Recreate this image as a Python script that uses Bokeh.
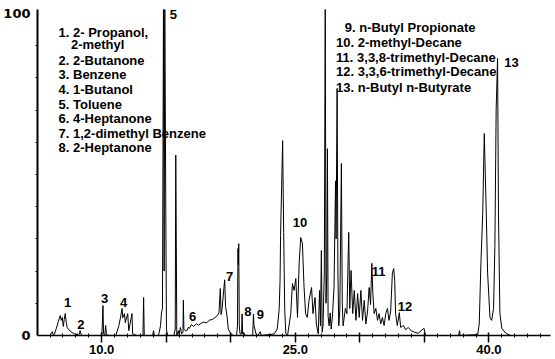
from bokeh.plotting import figure
from bokeh.models import FixedTicker, Range1d, ColumnDataSource, PrintfTickFormatter
from bokeh.core.properties import value
from bokeh.embed import file_html
from bokeh.resources import INLINE

# ---------------- data: retention time (min) / relative abundance (%) -------------
t_early = [5.03, 5.95, 6.10, 6.18, 6.26, 6.33, 6.49, 6.64, 6.72, 6.79, 6.87, 6.95, 7.03, 7.10,
           7.18, 7.26, 7.33, 7.49, 7.72, 7.87, 8.03, 8.10, 8.18, 8.26, 8.33, 8.41, 8.49]
y_early = [0, 0, 0.6, 1.2, 0, 0.3, 2.2, 4.3, 5.3, 6.2, 4.7, 5.6, 2.8, 5.0,
           6.8, 4.0, 2.5, 1.6, 0.9, 0.6, 0, 0.6, 0, 0.3, 1.5, 0.3, 0]

t_b = [10.02, 10.10, 10.15, 10.25, 10.31, 10.37, 10.60,
       11.10, 11.33, 11.48, 11.58, 11.64, 11.77, 11.83, 12.02, 12.10, 12.35, 12.40, 12.56, 12.71,
       13.20, 13.25, 13.30, 13.95, 14.02, 14.08]
y_b = [0, 9.3, 0.5, 0.3, 3.1, 0.2, 0,
       0, 3, 6, 8.4, 5.5, 6.8, 4, 6.8, 1.5, 6.8, 0.5, 0.3, 0,
       0, 11.8, 0, 0, 1.5, 0]

t_tol = [14.40, 14.56, 14.63, 14.71, 14.79, 14.84, 14.89, 14.98, 15.02, 15.10,
         15.60, 15.70, 15.74, 15.78, 15.82,
         15.94, 16.00, 16.10, 16.20, 16.30, 16.33, 16.37, 16.48]
y_tol = [0, 3, 7, 8.5, 103, 20, 103, 30, 2, 0,
         0, 2, 56, 30, 0,
         1.5, 0.3, 2.5, 0.5, 1, 11, 2, 1.5]

t_mid = [16.60, 16.70, 16.79, 16.96, 17.10, 17.35, 17.50, 17.86, 18.10, 18.38, 18.60, 18.89,
         19.09, 19.19, 19.25, 19.32, 19.53, 19.60, 19.71, 19.81, 20.02,
         20.20, 20.45, 20.52, 20.56, 20.59, 20.62, 20.66, 20.72,
         20.84, 20.88, 20.92, 21.00, 21.10,
         21.70, 21.76, 21.80, 21.87, 21.95, 22.10, 22.30, 22.36]
y_mid = [1.5, 2.5, 2.2, 3.4, 2.8, 3.6, 3.2, 4.2, 3.9, 4.8, 5.0, 5.9,
         7.0, 14.6, 6.5, 8, 17.3, 9, 6, 2, 0.5,
         0, 0, 3, 27, 22, 28.5, 3, 0.5,
         0.5, 6.7, 0.5, 1, 0,
         0, 6.7, 3, 2, 0.5, 0, 1.2, 0]

t_main = [23.37, 23.60, 23.75, 23.82, 23.86, 24.02, 24.10, 24.18, 24.27,
          24.40, 24.65, 24.78, 24.91, 25.04, 25.17, 25.30, 25.42, 25.55, 25.68, 25.80, 25.93,
          26.06, 26.26, 26.37, 26.53, 26.63, 26.78, 26.88, 26.95, 27.02, 27.08, 27.15, 27.25,
          27.32, 27.38, 27.44, 27.49, 27.54, 27.62, 27.70, 27.78, 27.88, 28.00, 28.12, 28.16,
          28.24, 28.30, 28.37, 28.45, 28.57, 28.64, 28.70]
y_main = [0.5, 2, 8, 17, 31, 60.5, 32, 8, 0.5,
          0, 6.8, 16.1, 14, 17.7, 5.6, 22.4, 30.4, 28.6, 14.9, 6.8, 5.6,
          10.9, 14.9, 6.8, 11.8, 3.6, 0.5, 14, 3, 26.4, 1, 3, 20,
          103, 10, 20, 58, 6, 3, 7, 2, 6, 15, 48, 30,
          76.7, 20, 3, 8, 53.4, 10, 3]

t_late = [28.76, 28.88, 29.00, 29.14, 29.22, 29.32, 29.45, 29.57, 29.70, 29.83, 29.95, 30.08,
          30.21, 30.34, 30.47, 30.60, 30.72, 30.83, 30.93, 31.01, 31.11, 31.24, 31.37, 31.49,
          31.62, 31.75, 31.88, 32.01, 32.14, 32.26, 32.39, 32.52, 32.62, 32.70, 32.77, 32.90,
          33.06, 33.16, 33.37, 33.54, 33.75, 34.00, 34.26, 34.52, 34.83, 34.98, 35.08,
          37.65, 37.72, 37.78]
y_late = [4.7, 8.4, 6.8, 32, 8.4, 20.2, 6.8, 14, 4.7, 13, 5.6, 14,
          4.7, 10.9, 3.6, 7.6, 14.9, 9.6, 22.4, 13, 6.8, 8.4, 4.7, 6.8,
          3.6, 5.6, 3.1, 6.8, 8.4, 4.7, 7.6, 19.3, 20.8, 17.1, 6.8, 3.1,
          7.1, 2.5, 3.1, 1.8, 2.5, 1.4, 1.0, 0.7, 1.8, 2.2, 0,
          0, 1.5, 0]

t_end = [39.13, 39.25, 39.38, 39.52, 39.64, 39.77, 39.90, 40.08, 40.21, 40.36, 40.46, 40.56,
         40.67, 40.74, 40.85, 41.00, 41.31, 41.69, 44.77]
y_end = [0.3, 3.6, 22.4, 37.9, 62.7, 42, 19.3, 5.6, 4.7, 8.4, 27.3, 70,
         86, 38, 6.8, 2.2, 0.7, 0, 0]

# peak numbers
peak_labels = ["1", "2", "3", "4", "5", "6", "7", "8", "9", "10", "11", "12", "13"]
peak_t = [7.36, 8.39, 10.23, 11.71, 15.56, 17.04, 19.92, 21.32, 22.30, 25.37, 31.45, 33.49, 41.74]
peak_y = [10.3, 3.4, 11.4, 10.3, 99.7, 6.0, 18.4, 7.5, 6.5, 35.2, 20.0, 9.0, 84.9]

# compound key
key_left = ["1. 2- Propanol,", "2-methyl", "2. 2-Butanone", "3. Benzene", "4. 1-Butanol",
            "5. Toluene", "6. 4-Heptanone", "7. 1,2-dimethyl Benzene", "8. 2-Heptanone"]
key_right = ["9. n-Butyl Propionate", "10. 2-methyl-Decane", "11. 3,3,8-trimethyl-Decane",
             "12. 3,3,6-trimethyl-Decane", "13. n-Butyl n-Butyrate"]

x_major = [10, 15, 20, 25, 30, 35, 40]
x_labelled = {10: "10.0", 25: "25.0", 40: "40.0"}
y_major = [0, 100]

# ---------------- layout of the key (data units) -------------
key_left_x = [6.66, 7.62, 6.66, 6.66, 6.66, 6.66, 6.66, 6.66, 6.66]
key_left_y = [94.2, 90.4, 85.4, 81.1, 76.4, 71.7, 67.4, 62.7, 58.4]
key_right_x = [28.83, 28.16, 28.16, 28.16, 28.16]
key_right_y = [95.7, 90.9, 86.2, 81.8, 76.9]

times = t_early + t_b + t_tol + t_mid + t_main + t_late + t_end
inten = y_early + y_b + y_tol + y_mid + y_main + y_late + y_end

FONT = "Liberation Sans"

p = figure(width=555, height=359, x_range=Range1d(5.03, 44.77), y_range=Range1d(0, 101.2),
           output_backend="svg", toolbar_location=None,
           min_border_left=33, min_border_right=5, min_border_top=9, min_border_bottom=24)
p.grid.visible = False
p.outline_line_color = None
p.background_fill_color = "white"

p.line(times, inten, line_color="black", line_width=1)

src_pk = ColumnDataSource(dict(x=peak_t, y=peak_y, text=peak_labels))
p.text(x="x", y="y", text="text", source=src_pk, text_align="center", text_baseline="middle",
       text_font=value(FONT), text_font_style="bold", text_font_size="13px", text_color="black")

src_kl = ColumnDataSource(dict(x=key_left_x, y=key_left_y, text=key_left))
p.text(x="x", y="y", text="text", source=src_kl, text_align="left", text_baseline="middle",
       text_font=value(FONT), text_font_style="bold", text_font_size="13px", text_color="black")
src_kr = ColumnDataSource(dict(x=key_right_x, y=key_right_y, text=key_right))
p.text(x="x", y="y", text="text", source=src_kr, text_align="left", text_baseline="middle",
       text_font=value(FONT), text_font_style="bold", text_font_size="13px", text_color="black")

xa = p.xaxis[0]
xa.ticker = FixedTicker(ticks=x_major, minor_ticks=[v for v in range(6, 45) if v % 5 != 0])
xa.formatter = PrintfTickFormatter(format="%.1f")
xa.major_label_overrides = {v: x_labelled.get(v, "") for v in x_major}
xa.major_tick_in = 3
xa.major_tick_out = 7
xa.minor_tick_in = 2
xa.minor_tick_out = 2
xa.axis_line_width = 1.5
xa.major_tick_line_width = 1.5
xa.major_label_standoff = 2
xa.major_label_text_font = FONT
xa.major_label_text_font_style = "bold"
xa.major_label_text_font_size = "13px"
xa.major_label_text_color = "black"

ya = p.yaxis[0]
ya.ticker = FixedTicker(ticks=y_major, minor_ticks=[10, 20, 30, 40, 50, 60, 70, 80, 90])
ya.major_label_overrides = {0: "0", 100: "100"}
ya.major_tick_in = 0
ya.major_tick_out = 0
ya.minor_tick_in = 0
ya.minor_tick_out = 2
ya.axis_line_width = 2
ya.major_label_standoff = 5
ya.major_label_text_font = "DejaVu Sans"
ya.major_label_text_font_style = "bold"
ya.major_label_text_font_size = "13px"
ya.major_label_text_color = "black"

open("out.html", "w").write(file_html(p, INLINE))
